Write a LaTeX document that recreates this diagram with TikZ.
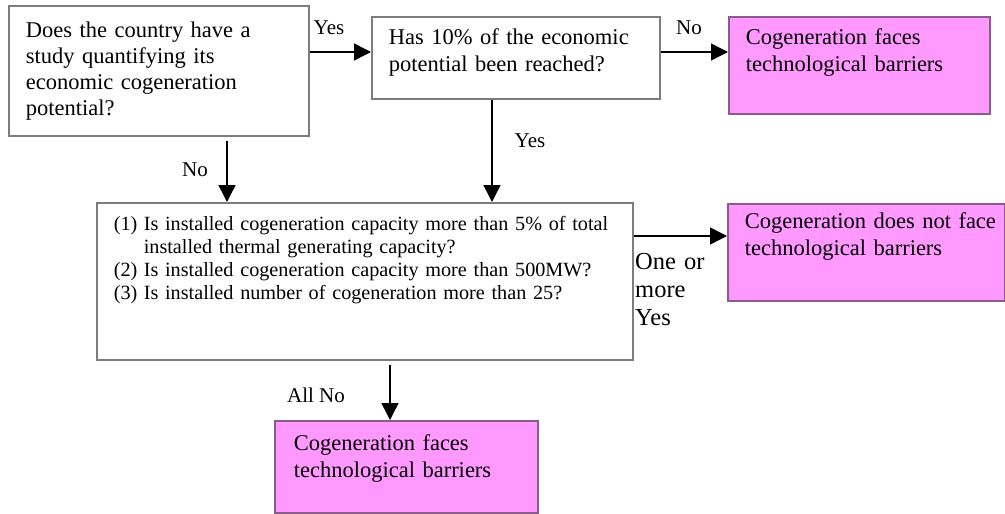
\documentclass[tikz,border=0pt]{standalone}
\usepackage{fontspec}
\setmainfont{Liberation Serif}
\usetikzlibrary{arrows.meta}
\definecolor{boxline}{RGB}{125,125,125}
\definecolor{pinkline}{RGB}{140,90,140}
\definecolor{pinkfill}{RGB}{255,153,255}
\tikzset{
  box/.style={draw=boxline, line width=1.6pt, fill=white, rectangle, anchor=north west,
    inner xsep=17pt, inner ysep=0pt, align=left,
    font=\fontsize{22.5}{27}\selectfont},
  pinkbox/.style={box, draw=pinkline, fill=pinkfill},
  arr/.style={-{Triangle[length=17pt,width=17pt]}, line width=1.5pt, black},
  lbl/.style={inner sep=0pt, font=\fontsize{21}{25}\selectfont},
}
\begin{document}
\begin{tikzpicture}[x=1pt,y=-1pt]
\useasboundingbox (0,0) rectangle (1005,514);

% boxes
\node[box, text width=266pt, text height=32pt, text depth=98pt,
  font=\fontsize{22.5}{26}\selectfont] (q1) at (8,5)
  {\mbox{Does the country have a}\\\mbox{study quantifying its}\\\mbox{economic cogeneration}\\\mbox{potential?}};
\node[box, text width=254pt, text height=28pt, text depth=54pt] (q2) at (371,16)
  {\mbox{Has 10\% of the economic}\\\mbox{potential been reached?}};
\node[pinkbox, text width=227pt, text height=28pt, text depth=69pt] (p1) at (728,16)
  {\mbox{Cogeneration faces}\\\mbox{technological barriers}};
\node[box, text width=502pt, text height=28pt, text depth=129pt,
  font=\fontsize{20.2}{23}\selectfont] (q3) at (96,202)
  {\mbox{\makebox[30pt][l]{(1)}Is installed cogeneration capacity more than 5\% of total}\\
   \mbox{\hspace*{30pt}installed thermal generating capacity?}\\
   \mbox{\makebox[30pt][l]{(2)}Is installed cogeneration capacity more than 500MW?}\\
   \mbox{\makebox[30pt][l]{(3)}Is installed number of cogeneration more than 25?}};
\node[pinkbox, inner xsep=17pt, text width=243pt, text height=25pt, text depth=72pt] (p2) at (727,203)
  {\mbox{Cogeneration does not face}\\\mbox{technological barriers}};
\node[pinkbox, inner xsep=19pt, text width=225pt, text height=30pt, text depth=62pt] (p3) at (274,420)
  {\mbox{Cogeneration faces}\\\mbox{technological barriers}};

% connector guide coordinates
\coordinate (r1) at (0,52);
\coordinate (r2) at (0,236);
\coordinate (c1) at (227,0);
\coordinate (c2) at (492,0);
\coordinate (c3) at (390,0);

% connectors
\draw[arr] (q1.east |- r1) -- (q2.west |- r1);
\draw[arr] (q2.east |- r1) -- (p1.west |- r1);
\draw[arr, shorten <=4pt] (q1.south -| c1) -- (q3.north -| c1);
\draw[arr] (q2.south -| c2) -- (q3.north -| c2);
\draw[arr] (q3.east |- r2) -- (p2.west |- r2);
\draw[arr, shorten <=4pt] (q3.south -| c3) -- (p3.north -| c3);

% labels
\node[lbl] (ly1) at (329,28) {Yes};
\node[lbl] (ln1) at (689,28) {No};
\node[lbl] (ln2) at (195,170) {No};
\node[lbl] (ly2) at (530,141) {Yes};
\node[lbl, anchor=base west, text width=80pt, align=left,
  font=\fontsize{24.5}{28}\selectfont] (lom) at (635,269) {One or\\more\\Yes};
\node[lbl] (lan) at (316,395) {All No};
\end{tikzpicture}
\end{document}
